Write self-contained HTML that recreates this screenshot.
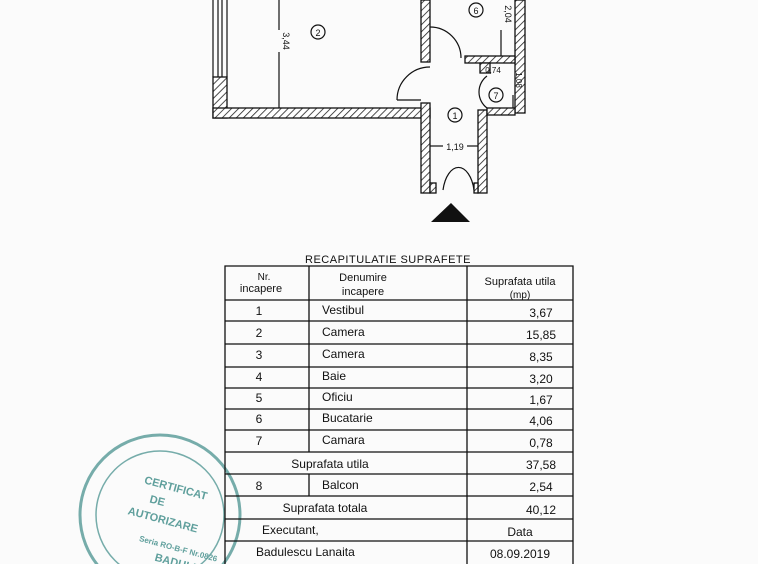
<!DOCTYPE html>
<html><head><meta charset="utf-8"><style>
html,body{margin:0;padding:0;background:#fbfbfb;width:758px;height:564px;overflow:hidden}
svg{display:block}
text{font-family:"Liberation Sans",sans-serif;fill:#111}
</style></head><body>
<svg width="758" height="564" viewBox="0 0 758 564" xmlns="http://www.w3.org/2000/svg">
<defs>
<pattern id="h" width="5" height="5" patternUnits="userSpaceOnUse" patternTransform="rotate(45)">
<rect width="5" height="5" fill="#fff"/><line x1="0" y1="0" x2="0" y2="5" stroke="#222" stroke-width="1.6"/>
</pattern>
</defs>
<g stroke="#111" stroke-width="1.3" fill="url(#h)">
<rect x="213" y="77" width="14" height="41"/>
<rect x="213" y="108" width="217" height="10"/>
<rect x="421" y="0" width="9" height="62"/>
<rect x="421" y="103" width="9" height="90"/>
<rect x="478" y="110" width="9" height="83"/>
<rect x="430" y="183" width="6" height="10"/>
<rect x="474" y="183" width="4" height="10"/>
<rect x="515" y="0" width="10" height="113"/>
<rect x="465" y="56" width="50" height="7"/>
<rect x="487" y="108" width="28" height="7"/>
<rect x="480" y="63" width="10" height="10"/>
</g>
<g stroke="#111" stroke-width="1.2" fill="none">
<line x1="213" y1="0" x2="213" y2="77"/><line x1="227" y1="0" x2="227" y2="77"/>
<line x1="218" y1="0" x2="218" y2="77"/><line x1="222" y1="0" x2="222" y2="77"/>
<path d="M430 27 A31 31 0 0 1 461 58"/>
<path d="M397 100 A33 33 0 0 1 430 67"/>
<line x1="397" y1="100" x2="421" y2="100"/>
<path d="M487 76 A20 20 0 0 0 487 108"/>
<path d="M443 190 A16 30 0 0 1 474 190" />
<line x1="279" y1="0" x2="279" y2="30"/><line x1="279" y1="52" x2="279" y2="108"/>
<line x1="501" y1="30" x2="501" y2="56"/>
<line x1="430" y1="146" x2="443" y2="146"/><line x1="467" y1="146" x2="478" y2="146"/>
<line x1="513" y1="95" x2="513" y2="108"/>
<circle cx="318" cy="32" r="7"/><circle cx="476" cy="10" r="7"/>
<circle cx="455" cy="115" r="7"/><circle cx="496" cy="95" r="7"/>
</g>
<text x="318" y="36" font-size="9" text-anchor="middle">2</text>
<text x="476" y="14" font-size="9" text-anchor="middle">6</text>
<text x="455" y="119" font-size="9" text-anchor="middle">1</text>
<text x="496" y="99" font-size="9" text-anchor="middle">7</text>
<text x="455" y="150" font-size="9" text-anchor="middle">1,19</text>
<text x="493" y="73" font-size="8" text-anchor="middle">0,74</text>
<text transform="translate(283,41) rotate(90)" font-size="9" text-anchor="middle">3,44</text>
<text transform="translate(505,14) rotate(90)" font-size="9" text-anchor="middle">2,04</text>
<text transform="translate(516,80) rotate(90)" font-size="8" text-anchor="middle">1,08</text>
<polygon points="431,222 470,222 451,203" fill="#111"/>

<g stroke="#5f9f9c" fill="none" opacity="0.85">
<circle cx="160" cy="515" r="80" stroke-width="3"/>
<circle cx="160" cy="515" r="64" stroke-width="1.5"/>
</g>
<g font-size="11" font-weight="bold">
<text x="140" y="488" style="fill:#5f9f9c" transform="rotate(15 160 500)">CERTIFICAT</text>
<text x="150" y="505" style="fill:#5f9f9c" transform="rotate(15 160 500)">DE</text>
<text x="132" y="522" style="fill:#5f9f9c" transform="rotate(15 160 500)">AUTORIZARE</text>
<text x="150" y="545" style="fill:#5f9f9c" font-size="8" transform="rotate(15 160 500)">Seria RO-B-F Nr.0826</text>
<text x="170" y="560" style="fill:#5f9f9c" transform="rotate(15 160 500)">BADULES</text>
</g>

<text x="388" y="263" font-size="11" text-anchor="middle" letter-spacing="0.5">RECAPITULATIE SUPRAFETE</text>
<g stroke="#111" stroke-width="1.3" fill="none">
<path d="M225 564 V266 H573 V564"/>
<line x1="309" y1="266" x2="309" y2="452"/>
<line x1="467" y1="266" x2="467" y2="564"/>
<line x1="309" y1="474" x2="309" y2="496"/>
<line x1="225" y1="300" x2="573" y2="300"/>
<line x1="225" y1="321" x2="573" y2="321"/>
<line x1="225" y1="344" x2="573" y2="344"/>
<line x1="225" y1="367" x2="573" y2="367"/>
<line x1="225" y1="388" x2="573" y2="388"/>
<line x1="225" y1="409" x2="573" y2="409"/>
<line x1="225" y1="430" x2="573" y2="430"/>
<line x1="225" y1="452" x2="573" y2="452"/>
<line x1="225" y1="474" x2="573" y2="474"/>
<line x1="225" y1="496" x2="573" y2="496"/>
<line x1="225" y1="519" x2="573" y2="519"/>
<line x1="225" y1="541" x2="573" y2="541"/>
</g>
<g font-size="12">
<text x="264" y="280" text-anchor="middle" font-size="10">Nr.</text>
<text x="261" y="292" text-anchor="middle" font-size="11">incapere</text>
<text x="363" y="281" text-anchor="middle" font-size="11">Denumire</text>
<text x="363" y="295" text-anchor="middle" font-size="11">incapere</text>
<text x="520" y="285" text-anchor="middle" font-size="11">Suprafata utila</text>
<text x="520" y="298" text-anchor="middle" font-size="10">(mp)</text>
<text x="259" y="315" text-anchor="middle">1</text><text x="322" y="314">Vestibul</text><text x="541" y="317" text-anchor="middle">3,67</text>
<text x="259" y="337" text-anchor="middle">2</text><text x="322" y="336">Camera</text><text x="541" y="339" text-anchor="middle">15,85</text>
<text x="259" y="359" text-anchor="middle">3</text><text x="322" y="358">Camera</text><text x="541" y="361" text-anchor="middle">8,35</text>
<text x="259" y="381" text-anchor="middle">4</text><text x="322" y="380">Baie</text><text x="541" y="383" text-anchor="middle">3,20</text>
<text x="259" y="402" text-anchor="middle">5</text><text x="322" y="401">Oficiu</text><text x="541" y="404" text-anchor="middle">1,67</text>
<text x="259" y="423" text-anchor="middle">6</text><text x="322" y="422">Bucatarie</text><text x="541" y="425" text-anchor="middle">4,06</text>
<text x="259" y="445" text-anchor="middle">7</text><text x="322" y="444">Camara</text><text x="541" y="447" text-anchor="middle">0,78</text>
<text x="330" y="468" text-anchor="middle">Suprafata utila</text><text x="541" y="469" text-anchor="middle">37,58</text>
<text x="259" y="490" text-anchor="middle">8</text><text x="322" y="489">Balcon</text><text x="541" y="491" text-anchor="middle">2,54</text>
<text x="325" y="512" text-anchor="middle">Suprafata totala</text><text x="541" y="514" text-anchor="middle">40,12</text>
<text x="262" y="534">Executant,</text><text x="520" y="536" text-anchor="middle">Data</text>
<text x="256" y="556">Badulescu Lanaita</text><text x="520" y="558" text-anchor="middle">08.09.2019</text>
</g>
</svg>
</body></html>
